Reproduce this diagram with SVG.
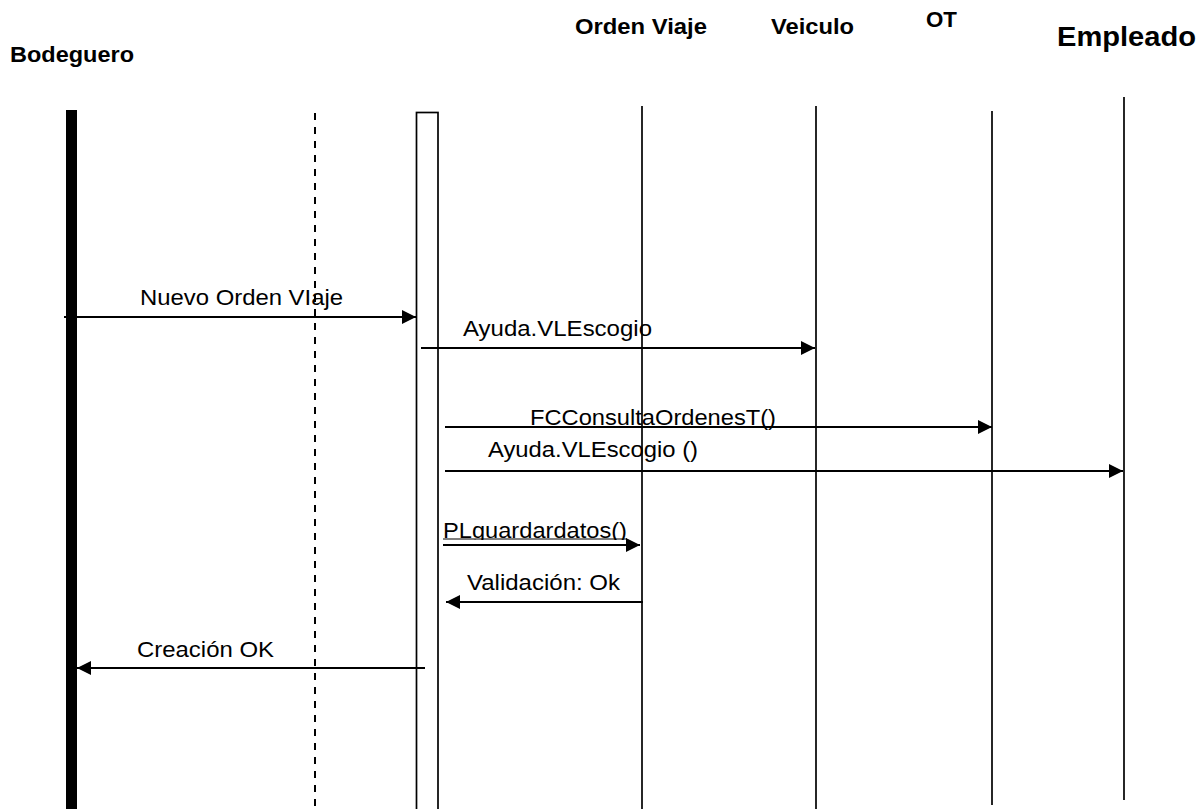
<svg xmlns="http://www.w3.org/2000/svg" width="1198" height="809" viewBox="0 0 1198 809">
  <style>
    .hdr { font-family: "Liberation Sans", Arial, sans-serif; font-weight: bold; fill: #000; }
    .lbl { font-family: "Liberation Sans", Arial, sans-serif; font-size: 22px; fill: #000; }
    .life { stroke: #000; stroke-width: 1.7; fill: none; }
    .dash { stroke: #000; stroke-width: 2; stroke-dasharray: 7 7; fill: none; }
    .msg { stroke: #000; stroke-width: 2; fill: none; marker-end: url(#arr); }
  </style>
  <defs>
    <marker id="arr" viewBox="0 0 14 14" refX="14" refY="7" markerWidth="14" markerHeight="14" markerUnits="userSpaceOnUse" orient="auto">
      <path d="M0,0 L14,7 L0,14 Z" fill="#000"/>
    </marker>
    <clipPath id="clipPL">
      <rect x="430" y="500" width="220" height="40"/>
    </clipPath>
  </defs>
  <rect width="1198" height="809" fill="#fff"/>

  <g id="bodeguero">
    <text class="hdr" x="10" y="62" font-size="22" textLength="124" lengthAdjust="spacingAndGlyphs">Bodeguero</text>
    <rect x="66" y="110" width="11" height="699" fill="#000"/>
  </g>
  <g id="interfaz">
    <line class="dash" x1="315" y1="113" x2="315" y2="809"/>
  </g>
  <g id="control">
    <rect x="416.5" y="112.5" width="21.5" height="700" fill="none" stroke="#000" stroke-width="1.7"/>
  </g>
  <g id="orden-viaje">
    <text class="hdr" x="575" y="34" font-size="22" textLength="132" lengthAdjust="spacingAndGlyphs">Orden Viaje</text>
    <line class="life" x1="642" y1="106" x2="642" y2="809"/>
  </g>
  <g id="veiculo">
    <text class="hdr" x="771" y="34" font-size="22" textLength="83" lengthAdjust="spacingAndGlyphs">Veiculo</text>
    <line class="life" x1="816" y1="106" x2="816" y2="809"/>
  </g>
  <g id="ot">
    <text class="hdr" x="926" y="27" font-size="22" textLength="31" lengthAdjust="spacingAndGlyphs">OT</text>
    <line class="life" x1="992" y1="111" x2="992" y2="805"/>
  </g>
  <g id="empleado">
    <text class="hdr" x="1057" y="46" font-size="28" textLength="139" lengthAdjust="spacingAndGlyphs">Empleado</text>
    <line class="life" x1="1124" y1="97" x2="1124" y2="800"/>
  </g>

  <g id="connectors">
    <line class="msg" x1="64" y1="317" x2="416" y2="317"/>
    <text class="lbl" x="140" y="305" textLength="203" lengthAdjust="spacingAndGlyphs">Nuevo Orden VIaje</text>

    <line class="msg" x1="421" y1="348" x2="815" y2="348"/>
    <text class="lbl" x="463" y="336" textLength="189" lengthAdjust="spacingAndGlyphs">Ayuda.VLEscogio</text>

    <line class="msg" x1="445" y1="427" x2="992" y2="427"/>
    <text class="lbl" x="530" y="425" textLength="246" lengthAdjust="spacingAndGlyphs">FCConsultaOrdenesT()</text>

    <line class="msg" x1="445" y1="471" x2="1123" y2="471"/>
    <text class="lbl" x="488" y="457" textLength="210" lengthAdjust="spacingAndGlyphs">Ayuda.VLEscogio ()</text>

    <line class="msg" x1="443" y1="545" x2="640" y2="545"/>
    <text class="lbl" x="443" y="538" textLength="184" lengthAdjust="spacingAndGlyphs" clip-path="url(#clipPL)">PLguardardatos()</text>
    <line x1="443" y1="539" x2="627" y2="539" stroke="#000" stroke-width="1.2"/>

    <line class="msg" x1="643" y1="602" x2="446" y2="602"/>
    <text class="lbl" x="467" y="590" textLength="153" lengthAdjust="spacingAndGlyphs">Validación: Ok</text>

    <line class="msg" x1="425" y1="668" x2="77" y2="668"/>
    <text class="lbl" x="137" y="657" textLength="137" lengthAdjust="spacingAndGlyphs">Creación OK</text>
  </g>
</svg>
